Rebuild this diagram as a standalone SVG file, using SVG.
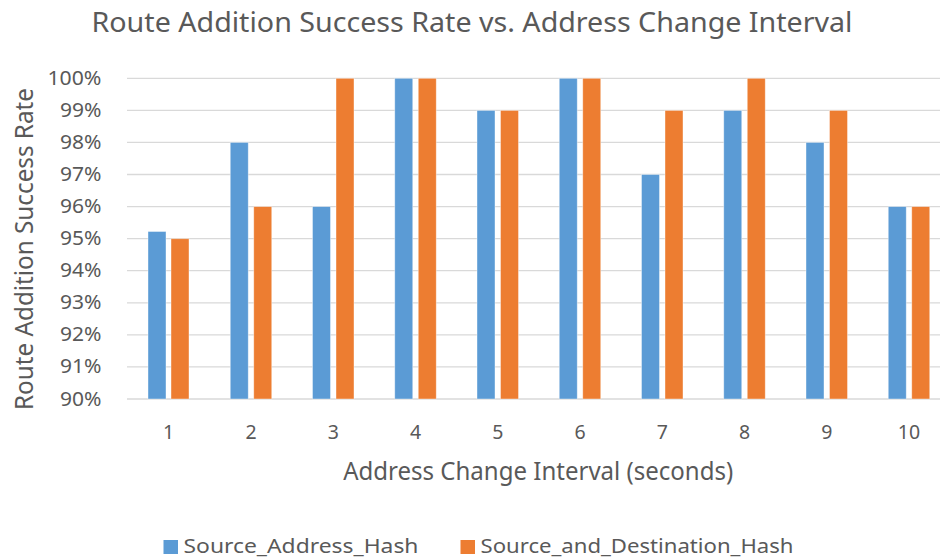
<svg xmlns="http://www.w3.org/2000/svg" width="940" height="558" viewBox="0 0 940 558">
<style>
text{font-family:"Noto Sans","Open Sans","DejaVu Sans",sans-serif;fill:#595959}
.grid{stroke:#d9d9d9;stroke-width:1.3}
.b{fill:#5b9bd5;stroke:#ffffff;stroke-opacity:.5;stroke-width:.8}
.o{fill:#ed7d31;stroke:#ffffff;stroke-opacity:.5;stroke-width:.8}
.yt{font-size:19px;text-anchor:end}
.xt{font-size:19.5px;text-anchor:middle}
.at{font-size:24.5px;text-anchor:middle}
.lg{font-size:19.5px}
</style>
<rect width="940" height="558" fill="#ffffff"/>
<text id="title" x="91.5" y="31.5" font-size="27" textLength="761" lengthAdjust="spacingAndGlyphs">Route Addition Success Rate vs. Address Change Interval</text>
<g id="gridlines">
<line class="grid" x1="127" y1="78.3" x2="940" y2="78.3"/>
<line class="grid" x1="127" y1="110.4" x2="940" y2="110.4"/>
<line class="grid" x1="127" y1="142.4" x2="940" y2="142.4"/>
<line class="grid" x1="127" y1="174.5" x2="940" y2="174.5"/>
<line class="grid" x1="127" y1="206.6" x2="940" y2="206.6"/>
<line class="grid" x1="127" y1="238.7" x2="940" y2="238.7"/>
<line class="grid" x1="127" y1="270.7" x2="940" y2="270.7"/>
<line class="grid" x1="127" y1="302.8" x2="940" y2="302.8"/>
<line class="grid" x1="127" y1="334.9" x2="940" y2="334.9"/>
<line class="grid" x1="127" y1="366.9" x2="940" y2="366.9"/>
<line class="grid" x1="127" y1="399" x2="940" y2="399"/>
</g>
<g id="y-ticks">
<text class="yt" x="101.5" y="85" textLength="54" lengthAdjust="spacingAndGlyphs">100%</text>
<text class="yt" x="101.5" y="117" textLength="41.5" lengthAdjust="spacingAndGlyphs">99%</text>
<text class="yt" x="101.5" y="149" textLength="41.5" lengthAdjust="spacingAndGlyphs">98%</text>
<text class="yt" x="101.5" y="181" textLength="41.5" lengthAdjust="spacingAndGlyphs">97%</text>
<text class="yt" x="101.5" y="213.1" textLength="41.5" lengthAdjust="spacingAndGlyphs">96%</text>
<text class="yt" x="101.5" y="245.2" textLength="41.5" lengthAdjust="spacingAndGlyphs">95%</text>
<text class="yt" x="101.5" y="277.2" textLength="41.5" lengthAdjust="spacingAndGlyphs">94%</text>
<text class="yt" x="101.5" y="309.3" textLength="41.5" lengthAdjust="spacingAndGlyphs">93%</text>
<text class="yt" x="101.5" y="341.4" textLength="41.5" lengthAdjust="spacingAndGlyphs">92%</text>
<text class="yt" x="101.5" y="373.4" textLength="41.5" lengthAdjust="spacingAndGlyphs">91%</text>
<text class="yt" x="101.5" y="405.5" textLength="41.5" lengthAdjust="spacingAndGlyphs">90%</text>
</g>
<g id="series-source-address-hash">
<rect class="b" x="148" y="231.5" width="18" height="167.5"/>
<rect class="b" x="230.25" y="142.4" width="18" height="256.6"/>
<rect class="b" x="312.5" y="206.6" width="18" height="192.4"/>
<rect class="b" x="394.75" y="78.3" width="18" height="320.7"/>
<rect class="b" x="477" y="110.4" width="18" height="288.6"/>
<rect class="b" x="559.25" y="78.3" width="18" height="320.7"/>
<rect class="b" x="641.5" y="174.5" width="18" height="224.5"/>
<rect class="b" x="723.75" y="110.4" width="18" height="288.6"/>
<rect class="b" x="806" y="142.4" width="18" height="256.6"/>
<rect class="b" x="888.25" y="206.6" width="18" height="192.4"/>
</g>
<g id="series-source-and-destination-hash">
<rect class="o" x="171" y="238.7" width="18" height="160.3"/>
<rect class="o" x="253.75" y="206.6" width="18" height="192.4"/>
<rect class="o" x="336" y="78.3" width="18" height="320.7"/>
<rect class="o" x="418.25" y="78.3" width="18" height="320.7"/>
<rect class="o" x="500.5" y="110.4" width="18" height="288.6"/>
<rect class="o" x="582.75" y="78.3" width="18" height="320.7"/>
<rect class="o" x="665" y="110.4" width="18" height="288.6"/>
<rect class="o" x="747.25" y="78.3" width="18" height="320.7"/>
<rect class="o" x="829.5" y="110.4" width="18" height="288.6"/>
<rect class="o" x="911.75" y="206.6" width="18" height="192.4"/>
</g>
<g id="x-ticks">
<text class="xt" x="168.5" y="439">1</text>
<text class="xt" x="251" y="439">2</text>
<text class="xt" x="333.25" y="439">3</text>
<text class="xt" x="415.5" y="439">4</text>
<text class="xt" x="497.75" y="439">5</text>
<text class="xt" x="580" y="439">6</text>
<text class="xt" x="662.25" y="439">7</text>
<text class="xt" x="744.5" y="439">8</text>
<text class="xt" x="826.75" y="439">9</text>
<text class="xt" x="909" y="439">10</text>
</g>
<text id="x-title" class="at" x="538.2" y="479.5" textLength="390" lengthAdjust="spacingAndGlyphs">Address Change Interval (seconds)</text>
<text id="y-title" class="at" transform="translate(32.5,249) rotate(-90)" x="0" y="0" textLength="322" lengthAdjust="spacingAndGlyphs">Route Addition Success Rate</text>
<g id="legend">
<rect x="163.5" y="540" width="14.5" height="14" fill="#5b9bd5"/>
<text class="lg" x="183.5" y="552.5" textLength="235" lengthAdjust="spacingAndGlyphs">Source_Address_Hash</text>
<rect x="460.5" y="540" width="14.5" height="14" fill="#ed7d31"/>
<text class="lg" x="480.5" y="552.5" textLength="313" lengthAdjust="spacingAndGlyphs">Source_and_Destination_Hash</text>
</g>
</svg>
